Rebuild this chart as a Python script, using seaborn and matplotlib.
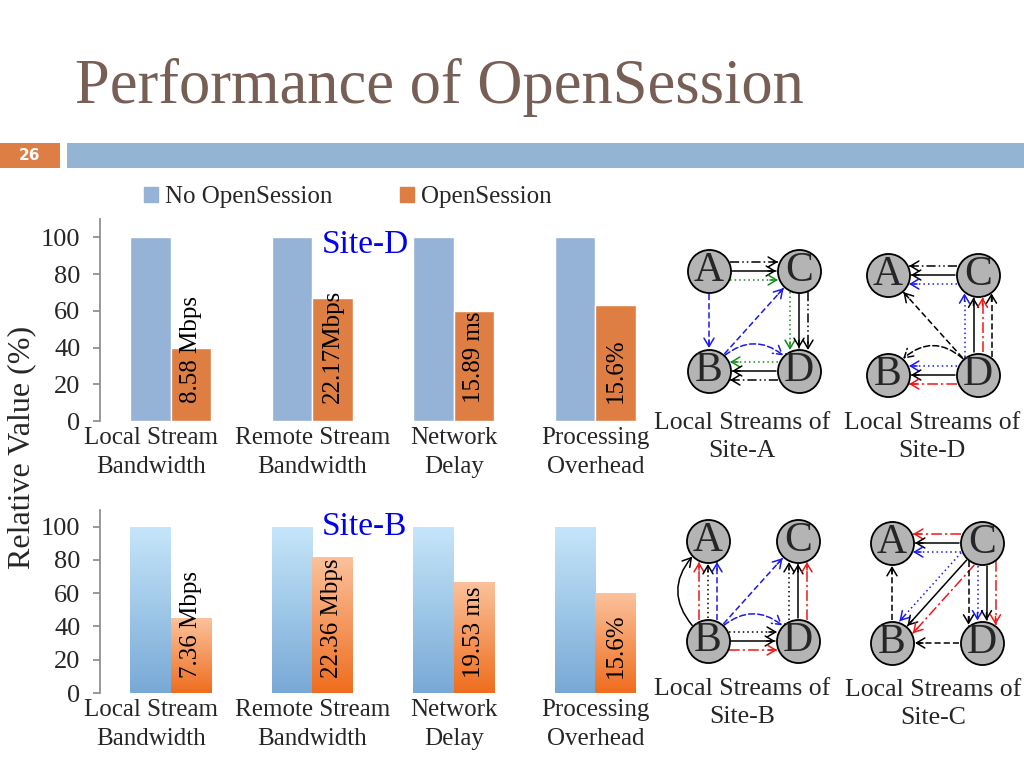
import numpy as np
import pandas as pd
import seaborn as sns
import matplotlib.pyplot as plt
from matplotlib.patches import Rectangle, Patch
from matplotlib.colors import LinearSegmentedColormap
from matplotlib.transforms import ScaledTranslation

# bar chart data (relative value, %)
categories = ["Local Stream\nBandwidth", "Remote Stream\nBandwidth", "Network\nDelay", "Processing\nOverhead"]
series = ["No OpenSession", "OpenSession"]
site_d_base = [100, 100, 100, 100]
site_d_open = [40, 67, 60, 63]
site_d_labels = ["8.58 Mbps", "22.17Mbps", "15.89 ms", "15.6%"]
site_b_base = [100, 100, 100, 100]
site_b_open = [45, 82, 67, 60]
site_b_labels = ["7.36 Mbps", "22.36 Mbps", "19.53 ms", "15.6%"]
yticks = [0, 20, 40, 60, 80, 100]

# stream diagrams: nodes on a square, edges as (from, to, line styles, curvature)
node_xy = {"A": (0, 1), "C": (1, 1), "B": (0, 0), "D": (1, 0)}
edges_site_a = [
    ("A", "C", ["k-..", "k-", "g:"], 0),
    ("A", "B", ["b--"], 0),
    ("B", "C", ["b--"], 0),
    ("B", "D", ["b--"], -0.6),
    ("C", "D", ["g:", "k-", "k-.."], 0),
    ("D", "B", ["g:", "k-", "k-.."], 0),
]
edges_site_d = [
    ("C", "A", ["k-..", "k-", "b:"], 0),
    ("D", "A", ["k--"], 0),
    ("D", "B", ["k--"], 0.65),
    ("D", "B", ["b:", "k-", "r-."], 0),
    ("D", "C", ["b:", "k-", "r-.", "k--"], 0),
]
edges_site_b = [
    ("B", "A", ["k-"], -0.6),
    ("B", "A", ["r-.", "k:", "b--"], 0),
    ("B", "C", ["b--"], 0),
    ("B", "D", ["b--"], -0.6),
    ("B", "D", ["k:", "k-", "r-."], 0),
    ("D", "C", ["k:", "k-", "r-."], 0),
]
edges_site_c = [
    ("C", "A", ["r-.", "k-", "b:"], 0),
    ("B", "A", ["k--"], 0),
    ("C", "B", ["b:", "k-", "r-."], 0),
    ("C", "D", ["k--", "b:", "k-", "r-."], 0),
    ("D", "B", ["k--"], 0),
]

style_map = {
    "k-": ("black", "-"),
    "k-..": ("black", (0, (6, 2, 1, 2, 1, 2))),
    "k--": ("black", (0, (4, 2))),
    "k:": ("black", (0, (1, 2))),
    "g:": ("#1a8a1a", (0, (1, 2))),
    "b--": ("#1a1aee", (0, (4, 2))),
    "b:": ("#1a1aee", (0, (1, 2))),
    "r-.": ("#ee1a1a", (0, (7, 2, 1.5, 2))),
}

BLUE = "#95B3D7"
ORANGE = "#DE7E43"
W, H = 1024, 768


def fx(px):
    return px / W


def fy(py):
    return 1 - py / H


def bar_frame(base, opens):
    return pd.DataFrame({
        "category": categories * 2,
        "series": [series[0]] * len(categories) + [series[1]] * len(categories),
        "value": base + opens,
    })


def style_axis(ax, fig):
    ax.set_ylim(0, 110)
    ax.set_xlim(-0.5, 3.5)
    ax.set_yticks(yticks)
    ax.set_xlabel("")
    ax.set_ylabel("")
    for side in ["top", "right", "bottom"]:
        ax.spines[side].set_visible(False)
    ax.spines["left"].set_color("#8c8c8c")
    ax.tick_params(axis="y", length=5, pad=9, color="#8c8c8c", labelsize=19, left=True)
    ax.tick_params(axis="x", length=0, pad=4, labelsize=18)
    labels = ax.get_xticklabels()
    for lab in labels:
        lab.set_linespacing(1.45)
    # first category label sits a little left, as on the slide
    labels[0].set_transform(labels[0].get_transform()
                            + ScaledTranslation(-0.2, 0, fig.dpi_scale_trans))
    ax.set_facecolor("none")


def add_labels(ax, container, labels, pad):
    for bar, text in zip(container, labels):
        ax.annotate(text, xy=(bar.get_x() + bar.get_width() / 2, 0), xytext=(0, pad),
                    textcoords="offset points", rotation=90, ha="center", va="bottom",
                    fontsize=18, color="black")


def shade(ax, container, top, bottom):
    cmap = LinearSegmentedColormap.from_list("grad", [bottom, top])
    grad = np.linspace(0, 1, 256).reshape(-1, 1)
    for bar in container:
        x, w, h = bar.get_x(), bar.get_width(), bar.get_height()
        im = ax.imshow(grad, extent=[x, x + w, 0, h], origin="lower", cmap=cmap,
                       aspect="auto", zorder=bar.get_zorder() + 0.1)
        im.set_clip_path(bar)


def draw_diagram(ax, edges):
    ax.set_xlim(-0.5, 1.5)
    ax.set_ylim(-0.5, 1.5)
    ax.axis("off")
    to_px = ax.transData.transform
    to_data = ax.transData.inverted().transform
    radius, gap = 22, 9
    for src, dst, styles, rad in edges:
        p1 = to_px(node_xy[src])
        p2 = to_px(node_xy[dst])
        u = (p2 - p1) / np.linalg.norm(p2 - p1)
        n = np.array([-u[1], u[0]])
        if n[1] - n[0] < 0:
            n = -n
        for i, code in enumerate(styles):
            color, ls = style_map[code]
            if rad:
                ax.annotate("", xy=node_xy[dst], xytext=node_xy[src],
                            arrowprops=dict(arrowstyle="->,head_length=0.5,head_width=0.3",
                                            color=color, linestyle=ls, lw=1.1,
                                            connectionstyle=f"arc3,rad={rad}",
                                            shrinkA=16, shrinkB=16))
                continue
            off = ((len(styles) - 1) / 2 - i) * gap
            t = np.sqrt(radius ** 2 - off ** 2) + 1
            s = p1 + u * t + n * off
            e = p2 - u * t + n * off
            xs, ys = to_data([s, e]).T
            ax.plot(xs, ys, color=color, ls=ls, lw=1.1, zorder=2)
            ax.annotate("", xy=to_data(e), xytext=to_data(e - u * 8),
                        arrowprops=dict(arrowstyle="->,head_length=0.5,head_width=0.3",
                                        color=color, lw=1.1, shrinkA=0, shrinkB=0))
    names = list(node_xy)
    xy = np.array([node_xy[k] for k in names])
    ax.scatter(xy[:, 0], xy[:, 1], s=31 ** 2, c="#b4b4b4", edgecolors="black",
               linewidths=1.3, zorder=3)
    for k in names:
        ax.text(*node_xy[k], k, fontsize=30, ha="center", va="center", zorder=4)


def main():
    sns.set_theme(style="white")
    plt.rcParams["font.family"] = ["Liberation Serif", "DejaVu Serif"]

    fig = plt.figure(figsize=(10.24, 7.68), dpi=100)
    fig.patch.set_facecolor("white")

    # header
    fig.add_artist(Rectangle((0, fy(168)), fx(60), 25 / H, transform=fig.transFigure,
                             color="#DD7F45", lw=0))
    fig.add_artist(Rectangle((fx(67), fy(168)), fx(W - 67), 25 / H, transform=fig.transFigure,
                             color="#93B4D3", lw=0))
    fig.text(fx(30), fy(155.5), "26", color="white", fontsize=11, fontweight="bold",
             family="DejaVu Sans", ha="center", va="center")
    fig.text(fx(75), fy(103), "Performance of OpenSession", fontsize=45, color="#775F55",
             ha="left", va="baseline")

    # Site-D chart
    ax1 = fig.add_axes([fx(100), fy(421), fx(566), 202 / H])
    sns.barplot(data=bar_frame(site_d_base, site_d_open), x="category", y="value",
                hue="series", palette=[BLUE, ORANGE], width=0.57, gap=0,
                saturation=1, legend=False, ax=ax1)
    style_axis(ax1, fig)
    add_labels(ax1, ax1.containers[1], site_d_labels, 13)
    fig.text(fx(322), fy(253), "Site-D", color="#0000EE", fontsize=24, va="baseline")

    # Site-B chart
    ax2 = fig.add_axes([fx(100), fy(693), fx(566), 183 / H])
    sns.barplot(data=bar_frame(site_b_base, site_b_open), x="category", y="value",
                hue="series", palette=["#a8cdee", "#f5904a"], width=0.57, gap=0,
                saturation=1, legend=False, ax=ax2)
    shade(ax2, ax2.containers[0], "#c6e6fa", "#78a9d6")
    shade(ax2, ax2.containers[1], "#fbc29c", "#ef6d1e")
    style_axis(ax2, fig)
    add_labels(ax2, ax2.containers[1], site_b_labels, 11)
    fig.text(fx(322), fy(535), "Site-B", color="#0000EE", fontsize=24, va="baseline")

    # legend and shared y label
    handles = [Patch(color=BLUE, label=series[0]), Patch(color=ORANGE, label=series[1])]
    fig.legend(handles=handles, loc="center", bbox_to_anchor=(fx(348), fy(197)), ncol=2,
               frameon=False, fontsize=18, handlelength=0.55, handleheight=0.55,
               handletextpad=0.3, columnspacing=2.7)
    fig.text(fx(22), fy(447), "Relative Value (%)", rotation=90, fontsize=23,
             ha="center", va="center")

    # stream diagrams
    diagrams = [
        (edges_site_a, (754, 321), (742, 437), "Local Streams of\nSite-A"),
        (edges_site_d, (933, 325), (932, 437), "Local Streams of\nSite-D"),
        (edges_site_b, (753, 591), (742, 703), "Local Streams of\nSite-B"),
        (edges_site_c, (937, 593), (933, 704), "Local Streams of\nSite-C"),
    ]
    for edges, (cx, cy), (tx, ty), caption in diagrams:
        ax = fig.add_axes([fx(cx - 90), fy(cy + 100), fx(180), 200 / H])
        draw_diagram(ax, edges)
        fig.text(fx(tx), fy(ty), caption, fontsize=18.5, ha="center", va="center",
                 linespacing=1.4)

    fig.savefig("out.png", dpi=100)


if __name__ == "__main__":
    main()
